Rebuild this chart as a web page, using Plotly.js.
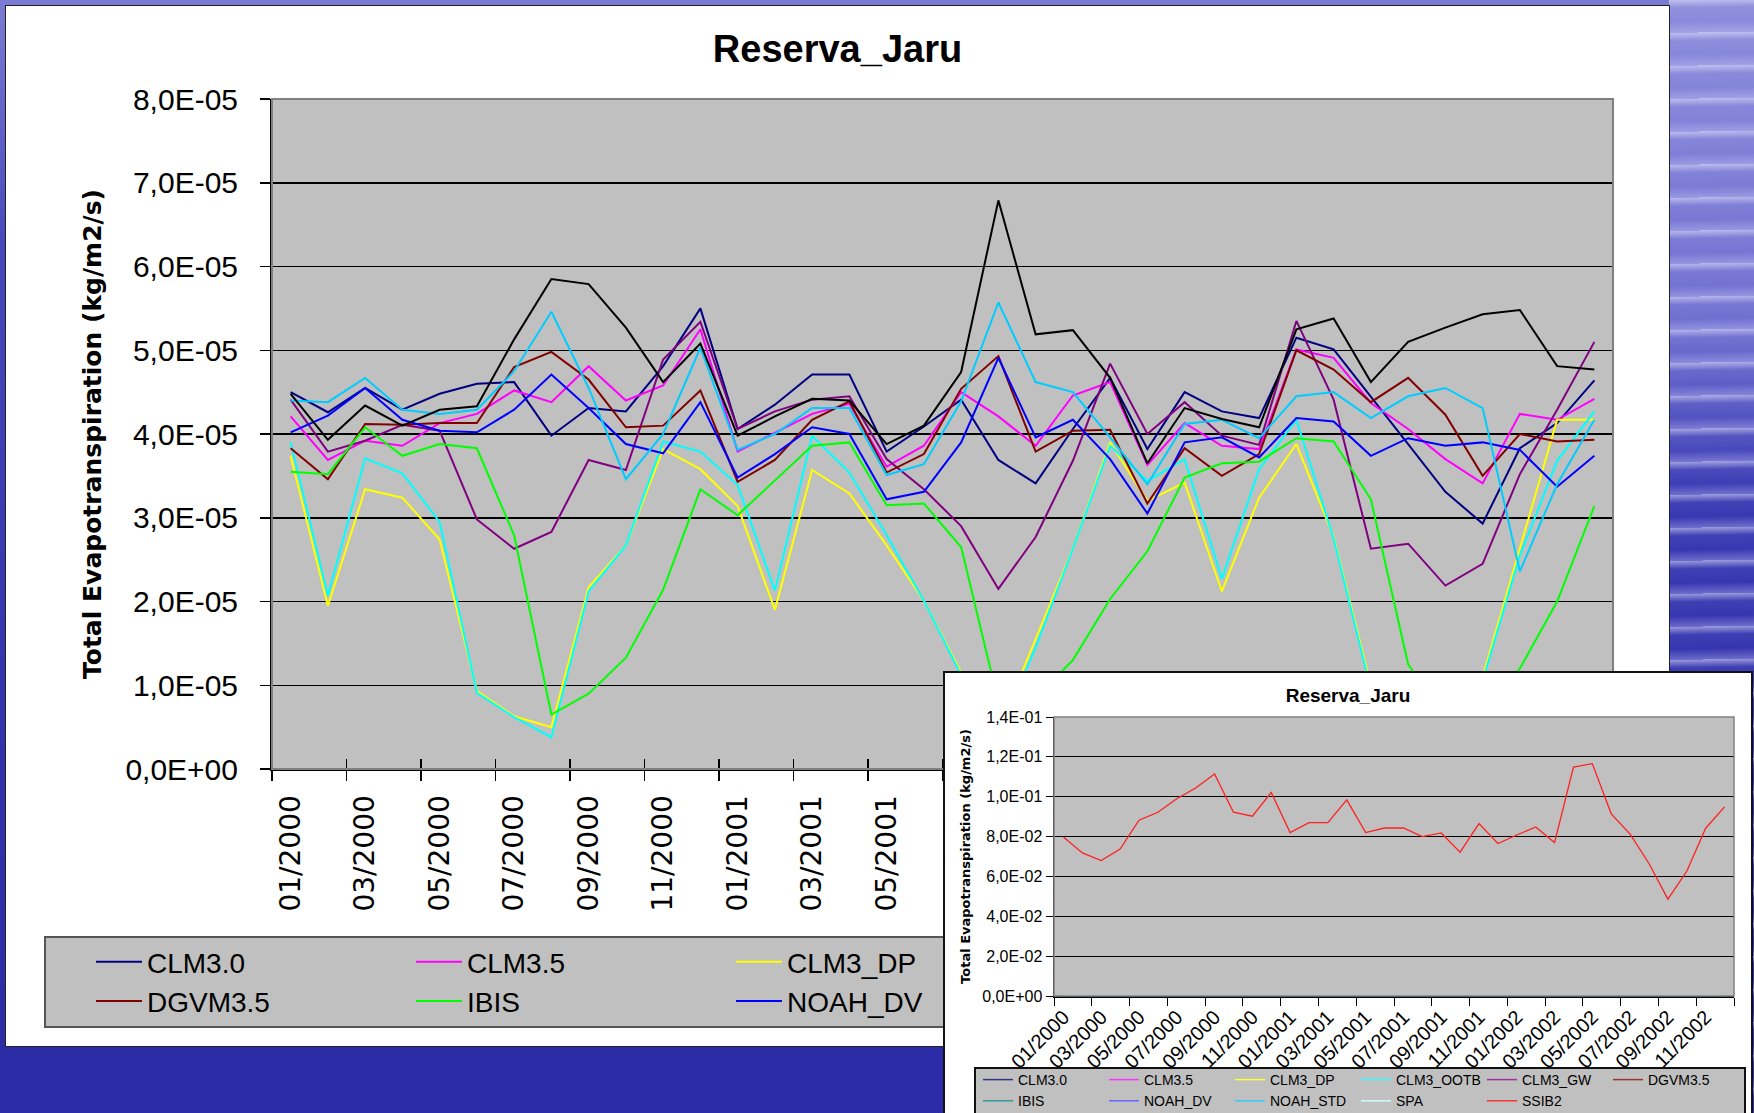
<!DOCTYPE html>
<html>
<head>
<meta charset="utf-8">
<script src="https://cdn.plot.ly/plotly-3.0.1.min.js"></script>
<style>
  html, body { margin: 0; padding: 0; }
  body {
    width: 1754px; height: 1113px; overflow: hidden; position: relative;
    background: linear-gradient(180deg, #7c7cd4 0%, #4848be 22%, #3434ae 60%, #2b2ba6 100%);
  }
  #streaks {
    position: absolute; left: 1669px; top: 0; width: 85px; height: 1113px;
    background:
      repeating-linear-gradient(179deg, rgba(235,235,255,0.55) 0px, rgba(235,235,255,0.05) 8px, rgba(120,120,220,0) 22px, rgba(210,210,255,0.35) 33px),
      linear-gradient(180deg, #8c8cdc 0%, #6e6ed0 30%, #3838b2 45%, #2c2ca8 100%);
  }
  #main {
    position: absolute; left: 6px; top: 6px; width: 1663px; height: 1040px;
    background: #fff; box-shadow: 0 0 0 1px #222;
  }
  #inset {
    position: absolute; left: 945px; top: 673px; width: 806px; height: 445px;
    background: #fff; box-shadow: 0 0 0 2px #111;
  }
</style>
</head>
<body>
<div id="streaks"></div>
<div id="main"></div>
<div id="inset"></div>
<script>
// months on the category axis
const months = [
  '01/2000', '02/2000', '03/2000', '04/2000', '05/2000', '06/2000',
  '07/2000', '08/2000', '09/2000', '10/2000', '11/2000', '12/2000',
  '01/2001', '02/2001', '03/2001', '04/2001', '05/2001', '06/2001',
  '07/2001', '08/2001', '09/2001', '10/2001', '11/2001', '12/2001',
  '01/2002', '02/2002', '03/2002', '04/2002', '05/2002', '06/2002',
  '07/2002', '08/2002', '09/2002', '10/2002', '11/2002', '12/2002'
];

// values in 1E-05 kg/m2/s
const UNIT = 1e-5;
const clm30 = [4.50, 4.26, 4.55, 4.29, 4.48, 4.60, 4.62, 3.98, 4.31, 4.27, 4.81, 5.50, 4.06, 4.35, 4.71, 4.71, 3.79, 4.09, 4.41, 3.69, 3.41, 4.06, 4.67, 3.82, 4.50, 4.27, 4.19, 5.15, 5.01, 4.45, 3.88, 3.31, 2.93, 3.83, 4.13, 4.64];
const clm35 = [4.21, 3.69, 3.92, 3.86, 4.13, 4.24, 4.52, 4.38, 4.81, 4.40, 4.58, 5.25, 3.79, 4.02, 4.24, 4.36, 3.61, 3.86, 4.50, 4.21, 3.86, 4.46, 4.62, 3.63, 4.13, 3.86, 3.82, 5.01, 4.91, 4.37, 4.06, 3.70, 3.41, 4.24, 4.17, 4.42];
const clm3Dp = [3.74, 1.95, 3.34, 3.24, 2.74, 0.93, 0.63, 0.50, 2.17, 2.67, 3.82, 3.58, 3.14, 1.90, 3.57, 3.29, 2.67, 2.01, 1.15, 0.47, 1.55, 2.63, 3.90, 3.20, 3.42, 2.12, 3.24, 3.88, 2.77, 1.00, 0.50, 0.50, 1.10, 2.63, 4.17, 4.17];
const clm3Ootb = [3.90, 2.07, 3.71, 3.53, 2.95, 0.91, 0.62, 0.38, 2.12, 2.67, 3.91, 3.79, 3.39, 2.13, 3.98, 3.54, 2.79, 2.01, 1.12, 0.40, 1.45, 2.63, 3.86, 3.44, 3.70, 2.27, 3.58, 4.17, 2.75, 0.95, 0.45, 0.45, 1.05, 2.55, 3.68, 4.27];
const clm3Gw = [4.41, 3.79, 3.92, 4.11, 4.04, 2.98, 2.63, 2.83, 3.69, 3.57, 4.89, 5.34, 4.06, 4.27, 4.41, 4.45, 3.70, 3.34, 2.90, 2.15, 2.77, 3.68, 4.84, 4.00, 4.38, 3.98, 3.87, 5.35, 4.41, 2.63, 2.69, 2.19, 2.45, 3.52, 4.29, 5.10];
const dgvm35 = [3.83, 3.46, 4.12, 4.11, 4.13, 4.13, 4.80, 4.98, 4.65, 4.08, 4.10, 4.52, 3.43, 3.69, 4.17, 4.39, 3.54, 3.76, 4.54, 4.93, 3.79, 4.04, 4.05, 3.17, 3.83, 3.50, 3.76, 5.00, 4.77, 4.38, 4.67, 4.23, 3.50, 4.00, 3.91, 3.93];
const ibis = [3.55, 3.52, 4.08, 3.74, 3.88, 3.83, 2.79, 0.65, 0.90, 1.33, 2.14, 3.34, 3.03, 3.44, 3.86, 3.90, 3.15, 3.17, 2.65, 0.80, 0.85, 1.30, 2.03, 2.60, 3.48, 3.65, 3.67, 3.95, 3.91, 3.22, 1.25, 0.60, 0.70, 1.20, 2.00, 3.14];
const noahDv = [4.02, 4.22, 4.55, 4.17, 4.04, 4.02, 4.29, 4.71, 4.31, 3.88, 3.77, 4.38, 3.48, 3.76, 4.08, 4.00, 3.22, 3.31, 3.90, 4.91, 3.96, 4.17, 3.70, 3.05, 3.90, 3.96, 3.72, 4.19, 4.15, 3.74, 3.95, 3.86, 3.90, 3.81, 3.37, 3.74];
const noahStd = [4.40, 4.38, 4.67, 4.29, 4.24, 4.29, 4.75, 5.46, 4.55, 3.46, 4.00, 5.03, 3.81, 4.00, 4.31, 4.31, 3.51, 3.64, 4.39, 5.57, 4.62, 4.50, 3.96, 3.40, 4.12, 4.17, 3.95, 4.45, 4.50, 4.19, 4.45, 4.55, 4.31, 2.36, 3.40, 4.17];
const spa = [4.48, 3.93, 4.34, 4.10, 4.29, 4.33, 5.13, 5.85, 5.79, 5.27, 4.62, 5.08, 3.98, 4.21, 4.42, 4.40, 3.88, 4.10, 4.74, 6.79, 5.19, 5.24, 4.67, 3.65, 4.31, 4.18, 4.08, 5.25, 5.38, 4.62, 5.10, 5.27, 5.43, 5.48, 4.81, 4.77];

// SSIB2 only appears in the small chart (kg/m2/s)
const ssib2 = [0.0798, 0.0718, 0.0680, 0.0737, 0.0882, 0.0922, 0.0990, 0.1044, 0.1114, 0.0922, 0.0902, 0.1021, 0.0820, 0.0870, 0.0870, 0.0984, 0.0820, 0.0843, 0.0843, 0.0800, 0.0818, 0.0722, 0.0865, 0.0765, 0.0808, 0.0848, 0.0770, 0.1149, 0.1166, 0.0914, 0.0812, 0.0665, 0.0486, 0.0626, 0.0842, 0.0949];

const mainTickVals = [0, 1e-5, 2e-5, 3e-5, 4e-5, 5e-5, 6e-5, 7e-5, 8e-5];
const mainTickText = ['0,0E+00', '1,0E-05', '2,0E-05', '3,0E-05', '4,0E-05', '5,0E-05', '6,0E-05', '7,0E-05', '8,0E-05'];
const insetTickVals = [0, 0.02, 0.04, 0.06, 0.08, 0.10, 0.12, 0.14];
const insetTickText = ['0,0E+00', '2,0E-02', '4,0E-02', '6,0E-02', '8,0E-02', '1,0E-01', '1,2E-01', '1,4E-01'];

const ARIAL = '"Liberation Sans", Arial, sans-serif';
const VERDANA = '"DejaVu Sans", Verdana, sans-serif';

const series = [
  { name: 'CLM3.0', values: clm30, color: '#000080', inset: '#333380' },
  { name: 'CLM3.5', values: clm35, color: '#ff00ff', inset: '#ff33ff' },
  { name: 'CLM3_DP', values: clm3Dp, color: '#ffff00', inset: '#ffff33' },
  { name: 'CLM3_OOTB', values: clm3Ootb, color: '#00ffff', inset: '#33ffff' },
  { name: 'CLM3_GW', values: clm3Gw, color: '#800080', inset: '#993399' },
  { name: 'DGVM3.5', values: dgvm35, color: '#800000', inset: '#993333' },
  { name: 'IBIS', values: ibis, color: '#00ff00', inset: '#339999' },
  { name: 'NOAH_DV', values: noahDv, color: '#0000ff', inset: '#6666ff' },
  { name: 'NOAH_STD', values: noahStd, color: '#00ccff', inset: '#33ccff' },
  { name: 'SPA', values: spa, color: '#000000', inset: '#ccffff' }
];

// ---------- main chart ----------
// plot area inside the 1663x1040 box: left 266, top 93, 1341 x 670
const mainTraces = series.map(s => ({
  x: months,
  y: s.values.map(v => v * UNIT),
  type: 'scatter',
  mode: 'lines',
  name: s.name,
  line: { color: s.color, width: 2 }
}));

// empty trace carrying a second x axis, gives the upward half of the cross ticks
mainTraces.push({
  x: months,
  y: months.map(() => null),
  xaxis: 'x2',
  type: 'scatter',
  mode: 'lines',
  showlegend: false,
  hoverinfo: 'skip'
});

const mainLayout = {
  width: 1663,
  height: 1040,
  margin: { l: 266, r: 56, t: 93, b: 277, autoexpand: false },
  paper_bgcolor: '#ffffff',
  plot_bgcolor: '#c0c0c0',
  title: {
    text: 'Reserva_Jaru',
    x: 0.5, xref: 'container',
    y: 1 - 43 / 1040, yref: 'container', yanchor: 'middle',
    font: { family: ARIAL, size: 38, color: '#000', weight: 'bold' }
  },
  xaxis: {
    type: 'category',
    range: [-0.5, 35.5],
    tickson: 'boundaries',
    dtick: 2,
    ticks: 'outside', ticklen: 10, tickwidth: 1.5, tickcolor: '#000',
    showline: true, linecolor: '#000', linewidth: 2,
    showgrid: false,
    tickangle: -90,
    ticklabelstandoff: 13,
    tickfont: { family: VERDANA, size: 28, color: '#000' }
  },
  xaxis2: {
    type: 'category',
    overlaying: 'x',
    anchor: 'y',
    side: 'bottom',
    range: [-0.5, 35.5],
    tickson: 'boundaries',
    dtick: 2,
    ticks: 'inside', ticklen: 10, tickwidth: 1.5, tickcolor: '#000',
    showticklabels: false, showgrid: false, showline: false
  },
  yaxis: {
    range: [0, 8e-5],
    tickvals: mainTickVals,
    ticktext: mainTickText,
    ticks: 'outside', ticklen: 10, tickwidth: 1.5, tickcolor: '#000',
    showline: true, linecolor: '#000', linewidth: 2,
    showgrid: true, gridcolor: '#000', gridwidth: 1.5,
    zeroline: false,
    ticklabelstandoff: 16,
    tickfont: { family: ARIAL, size: 30, color: '#000' },
    title: {
      text: 'Total Evapotranspiration (kg/m2/s)',
      standoff: 17,
      font: { family: VERDANA, size: 25, color: '#000', weight: 'bold' }
    }
  },
  shapes: [
    {
      type: 'rect', xref: 'paper', yref: 'paper', x0: 0, x1: 1, y0: 0, y1: 1,
      line: { color: '#808080', width: 2 }, layer: 'above'
    },
    {
      // legend frame, the entries sit inside it with Excel's wide padding
      type: 'rect', xref: 'paper', yref: 'paper',
      x0: (39 - 266) / 1341, x1: (1622 - 266) / 1341,
      y0: -(1021 - 763) / 670, y1: -(931 - 763) / 670,
      fillcolor: '#c0c0c0', line: { color: '#555', width: 2 }, layer: 'below'
    }
  ],
  showlegend: true,
  legend: {
    orientation: 'h',
    x: (85 - 266) / 1341, xanchor: 'left',
    y: -(931 - 763) / 670, yanchor: 'top',
    bgcolor: 'rgba(0,0,0,0)', borderwidth: 0,
    font: { family: ARIAL, size: 28, color: '#000' },
    itemwidth: 46,
    entrywidth: 259,
    traceorder: 'normal'
  }
};

Plotly.newPlot('main', mainTraces, mainLayout, { displayModeBar: false, staticPlot: true });

// ---------- small chart with SSIB2 ----------
// plot area inside the 806x445 box: left 109, top 44, 680 x 279
const insetTraces = series.map(s => ({
  x: months,
  y: s.values.map(v => v * UNIT),
  type: 'scatter',
  mode: 'lines',
  name: s.name,
  line: { color: s.inset, width: 1.5 }
}));
insetTraces.push({
  x: months,
  y: ssib2,
  type: 'scatter',
  mode: 'lines',
  name: 'SSIB2',
  line: { color: '#ff2020', width: 1.3 }
});

const insetLayout = {
  width: 806,
  height: 445,
  margin: { l: 109, r: 17, t: 44, b: 122, autoexpand: false },
  paper_bgcolor: '#ffffff',
  plot_bgcolor: '#c0c0c0',
  title: {
    text: 'Reserva_Jaru',
    x: 0.5, xref: 'container',
    y: 1 - 22 / 445, yref: 'container', yanchor: 'middle',
    font: { family: ARIAL, size: 19, color: '#000', weight: 'bold' }
  },
  xaxis: {
    type: 'category',
    range: [-0.5, 35.5],
    tickson: 'boundaries',
    dtick: 2,
    ticks: 'outside', ticklen: 8, tickwidth: 1, tickcolor: '#000',
    showline: true, linecolor: '#000', linewidth: 1.5,
    showgrid: false,
    tickangle: -45,
    tickfont: { family: ARIAL, size: 20, color: '#000' }
  },
  yaxis: {
    range: [0, 0.14],
    tickvals: insetTickVals,
    ticktext: insetTickText,
    ticks: 'outside', ticklen: 7, tickwidth: 1, tickcolor: '#000',
    showline: true, linecolor: '#000', linewidth: 1.5,
    showgrid: true, gridcolor: '#000', gridwidth: 1,
    zeroline: false,
    tickfont: { family: ARIAL, size: 16, color: '#000' },
    title: {
      text: 'Total Evapotranspiration (kg/m2/s)',
      standoff: 8,
      font: { family: VERDANA, size: 13, color: '#000', weight: 'bold' }
    }
  },
  shapes: [
    {
      type: 'rect', xref: 'paper', yref: 'paper', x0: 0, x1: 1, y0: 0, y1: 1,
      line: { color: '#808080', width: 1.5 }, layer: 'above'
    },
    {
      // legend frame
      type: 'rect', xref: 'paper', yref: 'paper',
      x0: (30 - 109) / 680, x1: (800 - 109) / 680,
      y0: -(442 - 323) / 279, y1: -(395 - 323) / 279,
      fillcolor: '#c0c0c0', line: { color: '#111', width: 2 }, layer: 'below'
    }
  ],
  showlegend: true,
  legend: {
    orientation: 'h',
    x: (33 - 109) / 680, xanchor: 'left',
    y: -(391 - 323) / 279, yanchor: 'top',
    bgcolor: 'rgba(0,0,0,0)', borderwidth: 0,
    font: { family: ARIAL, size: 14, color: '#000' },
    entrywidth: 81,
    traceorder: 'normal'
  }
};

Plotly.newPlot('inset', insetTraces, insetLayout, { displayModeBar: false, staticPlot: true });
</script>
</body>
</html>
